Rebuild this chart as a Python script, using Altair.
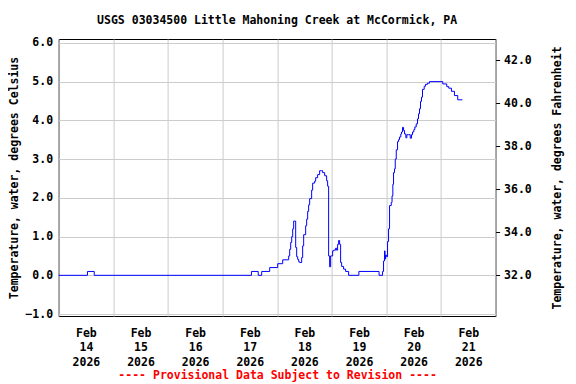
import altair as alt
import pandas as pd

# Hours after 2026-02-14 00:00 at which the reading changes, and the reading (deg C)
hours = [0, 12.68, 15.66, 84.72, 87.71, 89.24, 92.75, 96.26, 98.46, 101.09,
         101.53, 101.97, 102.41, 102.85, 103.28, 104.16, 104.60, 105.04, 105.48, 105.92,
         106.79, 107.23, 107.67, 108.55, 108.99, 109.43, 109.86, 110.30, 111.18, 111.62,
         112.50, 112.94, 113.81, 114.69, 115.57, 116.01, 116.89, 117.76, 118.20, 118.64,
         119.08, 119.52, 120.40, 120.84, 121.71, 122.15, 122.59, 123.03, 123.47, 123.91,
         124.35, 125.22, 126.10, 127.42, 131.93, 140.80, 142.33, 142.77, 143.21, 143.43,
         143.65, 144.09, 144.53, 144.97, 145.41, 146.15, 146.50, 146.85, 147.16, 147.60,
         147.91, 148.35, 148.92, 149.35, 149.79, 150.36, 150.67, 151.11, 151.55, 151.99,
         152.56, 153.00, 153.74, 154.49, 155.06, 155.50, 156.07, 156.51, 157.12, 157.69,
         158.13, 158.57, 159.01, 159.45, 159.88, 160.63, 161.20, 162.08, 162.96, 168.79,
         170.55, 171.42, 172.61, 173.92, 175.37, 177.43]
temp_c = [0.0, 0.1, 0.0, 0.1, 0.0, 0.1, 0.2, 0.3, 0.4, 0.5,
          0.67, 0.85, 1.0, 1.2, 1.4, 0.72, 0.48, 0.41, 0.35, 0.33,
          0.46, 0.76, 1.05, 1.28, 1.45, 1.65, 1.82, 1.98, 2.2, 2.38,
          2.43, 2.52, 2.6, 2.7, 2.7, 2.65, 2.57, 2.44, 2.3, 0.5,
          0.22, 0.5, 0.63, 0.65, 0.7, 0.65, 0.8, 0.9, 0.8, 0.33,
          0.23, 0.16, 0.1, 0.0, 0.1, 0.0, 0.1, 0.37, 0.63, 0.42,
          0.52, 0.48, 0.87, 1.2, 1.8, 1.88, 2.05, 2.35, 2.65, 2.75,
          3.0, 3.24, 3.45, 3.5, 3.57, 3.65, 3.7, 3.82, 3.74, 3.65,
          3.55, 3.63, 3.63, 3.54, 3.63, 3.7, 3.76, 3.83, 3.91, 4.04,
          4.17, 4.3, 4.49, 4.6, 4.8, 4.88, 4.93, 4.96, 5.0, 4.94,
          4.87, 4.83, 4.75, 4.64, 4.53, 4.53]

left_ticks = [-1, 0, 1, 2, 3, 4, 5, 6]
right_ticks = [32, 34, 36, 38, 40, 42]
c_domain = [-1.05, 6.1]
f_domain = [c * 1.8 + 32 for c in c_domain]

title_text = "USGS 03034500 Little Mahoning Creek at McCormick, PA"
left_title = "Temperature, water, degrees Celsius"
right_title = "Temperature, water, degrees Fahrenheit"
x_title = "---- Provisional Data Subject to Revision ----"

start = pd.Timestamp("2026-02-14 00:00:00")
df = pd.DataFrame({
    "time": [(start + pd.Timedelta(hours=h)).strftime("%Y-%m-%dT%H:%M:%S") for h in hours],
    "temp_c": temp_c,
})

FONT = "DejaVu Sans Mono"
W, H = 437, 277

day_ticks = [alt.DateTime(year=2026, month=2, date=d) for d in range(14, 23)]

x_enc = alt.X(
    "time:T",
    scale=alt.Scale(domain=[alt.DateTime(year=2026, month=2, date=14),
                            alt.DateTime(year=2026, month=2, date=22)], nice=False),
    axis=alt.Axis(
        values=day_ticks, grid=True, gridColor="#cccccc", domain=False, ticks=False,
        labelOffset=W / 16, labelPadding=11, labelFlush=False, labelOverlap=False,
        labelLineHeight=14.5, labelBaseline="top",
        labelExpr="date(datum.value) == 22 ? '' : [timeFormat(datum.value, '%b'), timeFormat(datum.value, '%d'), timeFormat(datum.value, '%Y')]",
        title=x_title, titleColor="#ff0000", titleX=W / 2, titleY=59,
        titleAlign="center", titleBaseline="middle",
    ),
)

base = alt.Chart(df)

line_c = base.mark_line(color="#0000ff", strokeWidth=1, interpolate="step-after").encode(
    x=x_enc,
    y=alt.Y(
        "temp_c:Q",
        scale=alt.Scale(domain=c_domain, nice=False, zero=False),
        axis=alt.Axis(
            values=left_ticks, format=".1f", grid=True, gridColor="#cccccc",
            domain=False, ticks=False, labelPadding=6,
            title=left_title, titleX=-44.6, titleY=H / 2, titleAngle=270,
            titleAlign="center", titleBaseline="middle",
        ),
    ),
)

line_f = base.transform_calculate(temp_f="datum.temp_c * 1.8 + 32").mark_line(
    opacity=0, interpolate="step-after"
).encode(
    x=x_enc,
    y=alt.Y(
        "temp_f:Q",
        scale=alt.Scale(domain=f_domain, nice=False, zero=False),
        axis=alt.Axis(
            orient="right", values=right_ticks, format=".1f", grid=False,
            domain=False, ticks=True, tickSize=4, tickColor="black", labelPadding=4,
            title=right_title, titleX=62, titleY=H / 2, titleAngle=270,
            titleAlign="center", titleBaseline="middle",
        ),
    ),
)

chart = alt.layer(line_c, line_f).resolve_scale(y="independent").properties(
    width=W, height=H,
    title=alt.TitleParams(
        text=title_text, font=FONT, fontSize=11.5, fontWeight="bold", color="black",
        anchor="middle", frame="group", baseline="middle", offset=4,
    ),
    autosize=alt.AutoSizeParams(type="none"),
    padding={"left": 50.6, "top": 31, "right": 72.4, "bottom": 68},
).configure_view(stroke="black", strokeWidth=1).configure_axis(
    labelFont=FONT, labelFontSize=11.5, labelFontWeight="bold", labelColor="black",
    titleFont=FONT, titleFontSize=11.5, titleFontWeight="bold", titleColor="black",
)

chart.save("out.html", embed_options={"renderer": "svg", "actions": False})
